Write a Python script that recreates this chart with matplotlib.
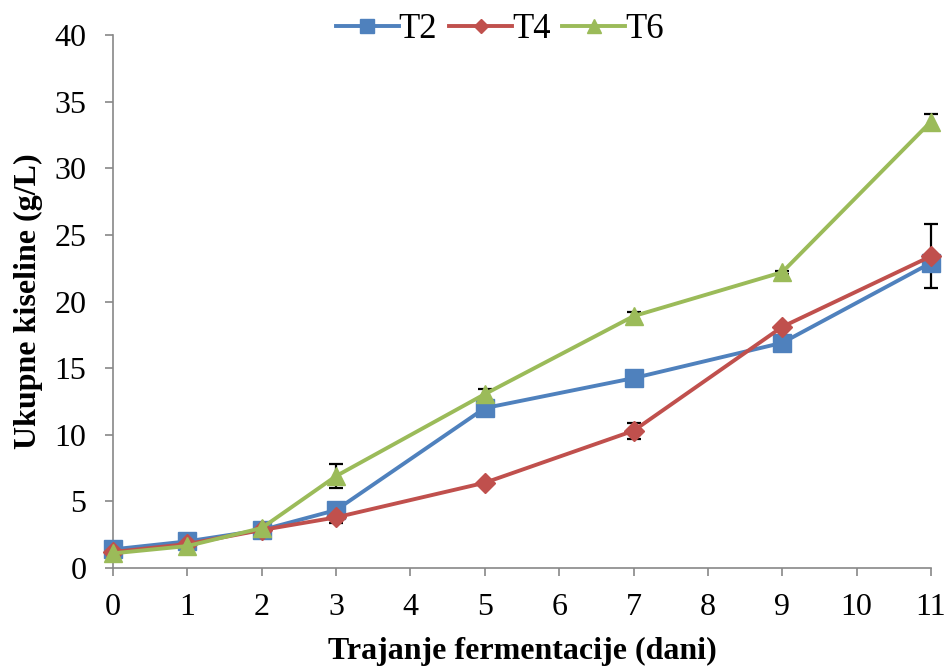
import matplotlib.pyplot as plt

plt.rcParams['font.family'] = ['Liberation Serif', 'DejaVu Serif']

days = [0, 1, 2, 3, 5, 7, 9, 11]
t2 = [1.4, 2.0, 2.85, 4.35, 12.0, 14.25, 16.9, 22.9]
t4 = [1.2, 1.8, 2.85, 3.8, 6.4, 10.3, 18.1, 23.4]
t6 = [1.1, 1.65, 3.0, 6.9, 13.05, 18.9, 22.2, 33.5]
t2_err = [0, 0, 0, 0, 0, 0, 0, 0]
t4_err = [0, 0, 0, 0.4, 0, 0.6, 0, 2.4]
t6_err = [0, 0, 0, 0.9, 0.35, 0.3, 0.1, 0.6]

fig = plt.figure(figsize=(9.47, 6.7), dpi=100)
ax = fig.add_axes([0.1193, 0.1522, 0.8638, 0.7956])

series = [
    ("T2", t2, t2_err, "#4F81BD", "s", 12.5),
    ("T4", t4, t4_err, "#C0504D", "D", 10),
    ("T6", t6, t6_err, "#9BBB59", "^", 13.5),
]
for name, vals, err, col, mk, ms in series:
    ax.errorbar(days, vals, yerr=err, color=col, marker=mk, markersize=ms,
                linewidth=2.8, ecolor="black", elinewidth=1.6, capsize=5,
                capthick=1.6, label=name, clip_on=False, zorder=3)

ax.set_xlim(0, 11)
ax.set_ylim(0, 40)
ax.set_xticks(range(12))
ax.set_yticks(range(0, 41, 5))
ax.tick_params(labelsize=23, color="#888888", width=1.2, length=6, direction="out")
ax.tick_params(axis="x", pad=12)
ax.tick_params(axis="y", pad=13)
for s in ["top", "right"]:
    ax.spines[s].set_visible(False)
for s in ["left", "bottom"]:
    ax.spines[s].set_color("#888888")
    ax.spines[s].set_linewidth(1.2)

ax.set_xlabel("Trajanje fermentacije (dani)", fontsize=23, fontweight="bold", labelpad=11)
ax.set_ylabel("Ukupne kiseline (g/L)", fontsize=23, fontweight="bold", labelpad=8)

handles, labels = ax.get_legend_handles_labels()
handles = [h[0] for h in handles]
ax.legend(handles, labels, loc="upper center", bbox_to_anchor=(0.473, 1.1), ncol=3,
          frameon=False, fontsize=25, handlelength=1.8, handletextpad=0.0,
          columnspacing=0.35, markerscale=0.75)

fig.savefig("out.png", dpi=100)
